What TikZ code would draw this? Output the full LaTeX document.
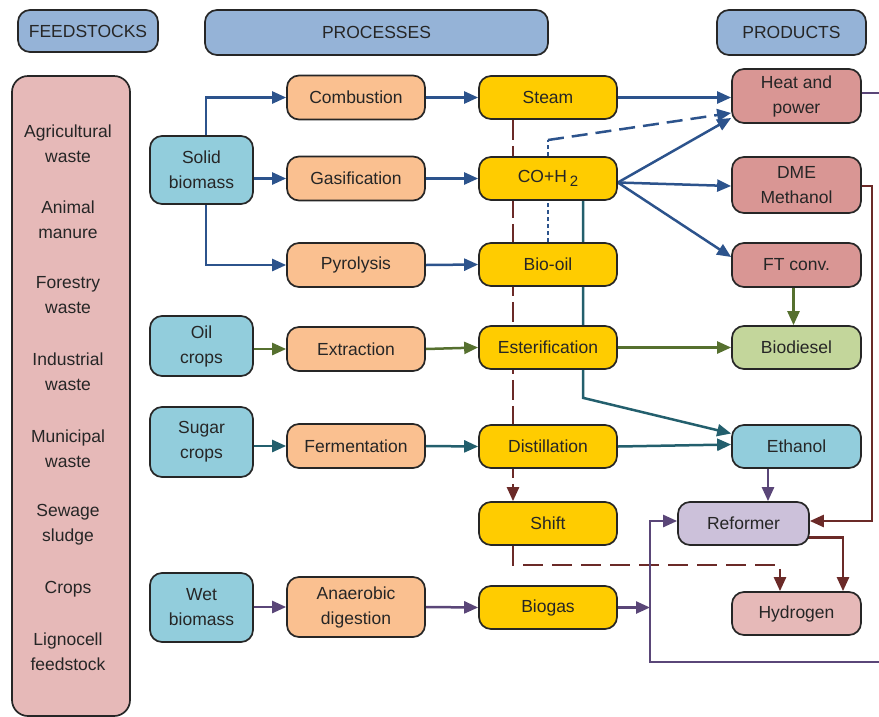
\documentclass[tikz,border=0pt]{standalone}
\usepackage{fontspec}
\setmainfont{Liberation Sans}
\usetikzlibrary{arrows.meta,backgrounds}
\definecolor{cblue}{HTML}{2C538C}
\definecolor{colive}{HTML}{56702F}
\definecolor{cteal}{HTML}{235F6D}
\definecolor{cbrown}{HTML}{6B2A28}
\definecolor{cpurple}{HTML}{5A4678}
\definecolor{fhead}{HTML}{95B3D7}
\definecolor{fpink}{HTML}{E6B9B8}
\definecolor{fcyan}{HTML}{92CDDC}
\definecolor{forange}{HTML}{FAC090}
\definecolor{fyellow}{HTML}{FFCC00}
\definecolor{fred}{HTML}{D99694}
\definecolor{fgreen}{HTML}{C3D69B}
\definecolor{flilac}{HTML}{CCC1DA}
\tikzset{
  box/.style={draw=black!85, line width=1.7pt, rounded corners=12pt, align=center, inner sep=0pt,
    font=\fontsize{17.5}{25}\selectfont, text=black!85},
  conn/.style={line width=2.5pt, -{Triangle[length=14pt,width=12pt]}},
  plain/.style={line width=2.5pt},
  ftxt/.style={align=center, inner sep=0pt, font=\fontsize{17.5}{25}\selectfont, text=black!85}
}
\begin{document}
\begin{tikzpicture}[x=1pt,y=-1pt]
\useasboundingbox (0,0) rectangle (879,716);
% headers
\node[box, fill=fhead, minimum width=140, minimum height=42] (hfeed) at (88,31) {FEEDSTOCKS};
\node[box, fill=fhead, minimum width=343, minimum height=45] (hproc) at (376.5,32.5) {PROCESSES};
\node[box, fill=fhead, minimum width=149, minimum height=45] (hprod) at (791.5,32.5) {PRODUCTS};
% feedstock list
\node[box, fill=fpink, minimum width=118, minimum height=640, rounded corners=16pt] (flist) at (71,396) {};
\node[ftxt] (f1) at (68,143.5) {Agricultural\\waste};
\node[ftxt] (f2) at (68,220) {Animal\\manure};
\node[ftxt] (f3) at (68,295.5) {Forestry\\waste};
\node[ftxt] (f4) at (68,372) {Industrial\\waste};
\node[ftxt] (f5) at (68,448.5) {Municipal\\waste};
\node[ftxt] (f6) at (68,524.5) {Sewage\\sludge};
\node[ftxt] (f7) at (68,589) {Crops};
\node[ftxt] (f8) at (68,651.5) {Lignocell\\feedstock};
% feedstock boxes
\node[box, fill=fcyan, minimum width=103, minimum height=68] (solid) at (201.5,170) {Solid\\biomass};
\node[box, fill=fcyan, minimum width=103, minimum height=60] (oil) at (201.5,346) {Oil\\crops};
\node[box, fill=fcyan, minimum width=103, minimum height=70] (sugar) at (201.5,442) {Sugar\\crops};
\node[box, fill=fcyan, minimum width=103, minimum height=69] (wet) at (201.5,607.5) {Wet\\biomass};
% processes
\node[box, fill=forange, minimum width=138, minimum height=44] (comb) at (356,97.5) {Combustion};
\node[box, fill=forange, minimum width=138, minimum height=44] (gas) at (356,178.5) {Gasification};
\node[box, fill=forange, minimum width=138, minimum height=44] (pyro) at (356,265) {Pyrolysis};
\node[box, fill=forange, minimum width=138, minimum height=44] (extr) at (356,349) {Extraction};
\node[box, fill=forange, minimum width=138, minimum height=44] (ferm) at (356,446) {Fermentation};
\node[box, fill=forange, minimum width=138, minimum height=60] (anae) at (356,607) {Anaerobic\\digestion};
% intermediates
\node[box, fill=fyellow, minimum width=138, minimum height=43] (steam) at (548,97.5) {Steam};
\node[box, fill=fyellow, minimum width=138, minimum height=43] (co) at (548,178.5) {CO+H\,\raisebox{-0.35ex}{\fontsize{15}{15}\selectfont 2}};
\node[box, fill=fyellow, minimum width=138, minimum height=43] (biooil) at (548,264.5) {Bio-oil};
\node[box, fill=fyellow, minimum width=138, minimum height=43] (ester) at (548,347.5) {Esterification};
\node[box, fill=fyellow, minimum width=138, minimum height=43] (dist) at (548,446.5) {Distillation};
\node[box, fill=fyellow, minimum width=138, minimum height=43] (shift) at (548,523.5) {Shift};
\node[box, fill=fyellow, minimum width=138, minimum height=43] (biogas) at (548,607.5) {Biogas};
% products
\node[box, fill=fred, minimum width=129, minimum height=54] (heat) at (796.5,96) {Heat and\\power};
\node[box, fill=fred, minimum width=129, minimum height=56] (dme) at (796.5,185) {DME\\Methanol};
\node[box, fill=fred, minimum width=129, minimum height=44] (ft) at (796.5,265) {FT conv.};
\node[box, fill=fgreen, minimum width=129, minimum height=43] (biod) at (796.5,347.5) {Biodiesel};
\node[box, fill=fcyan, minimum width=129, minimum height=43] (eth) at (796.5,446.5) {Ethanol};
\node[box, fill=flilac, minimum width=131, minimum height=43] (ref) at (743.5,523.5) {Reformer};
\node[box, fill=fpink, minimum width=129, minimum height=43] (hyd) at (796.5,613.5) {Hydrogen};
% free ends
\coordinate (dd) at (548,140);
\coordinate (hr) at (879,93);
\coordinate (dr) at (872,186);
\coordinate (bj) at (650,607.5);
\coordinate (pr) at (879,662);
\coordinate (pl) at (650,662);
\begin{scope}[on background layer]
% blue
\draw[conn, cblue] ([xshift=4.5]solid.north) |- (comb.west);
\draw[conn, cblue] (solid.east |- gas.west) -- (gas.west);
\draw[conn, cblue] ([xshift=4.5]solid.south) |- (pyro.west);
\draw[conn, cblue] (comb.east) -- (steam.west);
\draw[conn, cblue] (gas.east) -- (co.west);
\draw[conn, cblue] (pyro.east) -- (biooil.west);
\draw[conn, cblue] (steam.east) -- (steam.east -| heat.west);
\draw[plain, cblue, dash pattern=on 4pt off 3pt] (biooil.north) -- (co.south);
\draw[plain, cblue, dash pattern=on 4pt off 3pt] (co.north) -- (dd);
\draw[conn, cblue, dash pattern=on 16pt off 8pt] (dd) -- ([yshift=-17]heat.west);
\draw[conn, cblue] ([yshift=-4]co.east) -- ([yshift=-22]heat.west);
\draw[conn, cblue] ([yshift=-4]co.east) -- ([yshift=-1]dme.west);
\draw[conn, cblue] ([yshift=-4]co.east) -- ([yshift=8]ft.west);
% teal
\draw[conn, cteal] ([xshift=35]co.south) -- ([xshift=35]ester.south) -- ++(0,28) -- ([yshift=13]eth.west);
\draw[conn, cteal] (sugar.east |- ferm.west) -- (ferm.west);
\draw[conn, cteal] (ferm.east) -- (dist.west);
\draw[conn, cteal] (dist.east) -- ([yshift=2]eth.west);
% brown
\draw[conn, cbrown, dash pattern=on 20pt off 6pt] ([xshift=-35]steam.south) -- ([xshift=-35]shift.north);
\draw[conn, cbrown, dash pattern=on 20pt off 9pt] ([xshift=-35]shift.south) -- ++(0,19) -| ([xshift=-16.5]hyd.north);
\draw[conn, cbrown] ([yshift=-1]dme.east) -- (dr) |- ([yshift=2.5]ref.east);
\draw[conn, cbrown] ([xshift=-4,yshift=-14]ref.east) -| ([xshift=46.5]hyd.north);
% olive
\draw[conn, colive] (oil.east |- extr.west) -- (extr.west);
\draw[conn, colive] (extr.east) -- (ester.west);
\draw[conn, colive] (ester.east) -- (ester.east -| biod.west);
\draw[conn, colive] ([xshift=-3]ft.south) -- ([xshift=-3]biod.north);
% purple
\draw[conn, cpurple] ([xshift=-28.5]eth.south) -- ([xshift=-28.5]eth.south |- ref.north);
\draw[conn, cpurple] (wet.east |- anae.west) -- (anae.west);
\draw[conn, cpurple] (anae.east) -- (biogas.west);
\draw[conn, cpurple] (biogas.east) -- (bj);
\draw[conn, cpurple] (pr) -- (pl) |- ([yshift=2.5]ref.west);
\draw[plain, cpurple] ([yshift=3]heat.east) -- (hr);
\end{scope}
\end{tikzpicture}
\end{document}
